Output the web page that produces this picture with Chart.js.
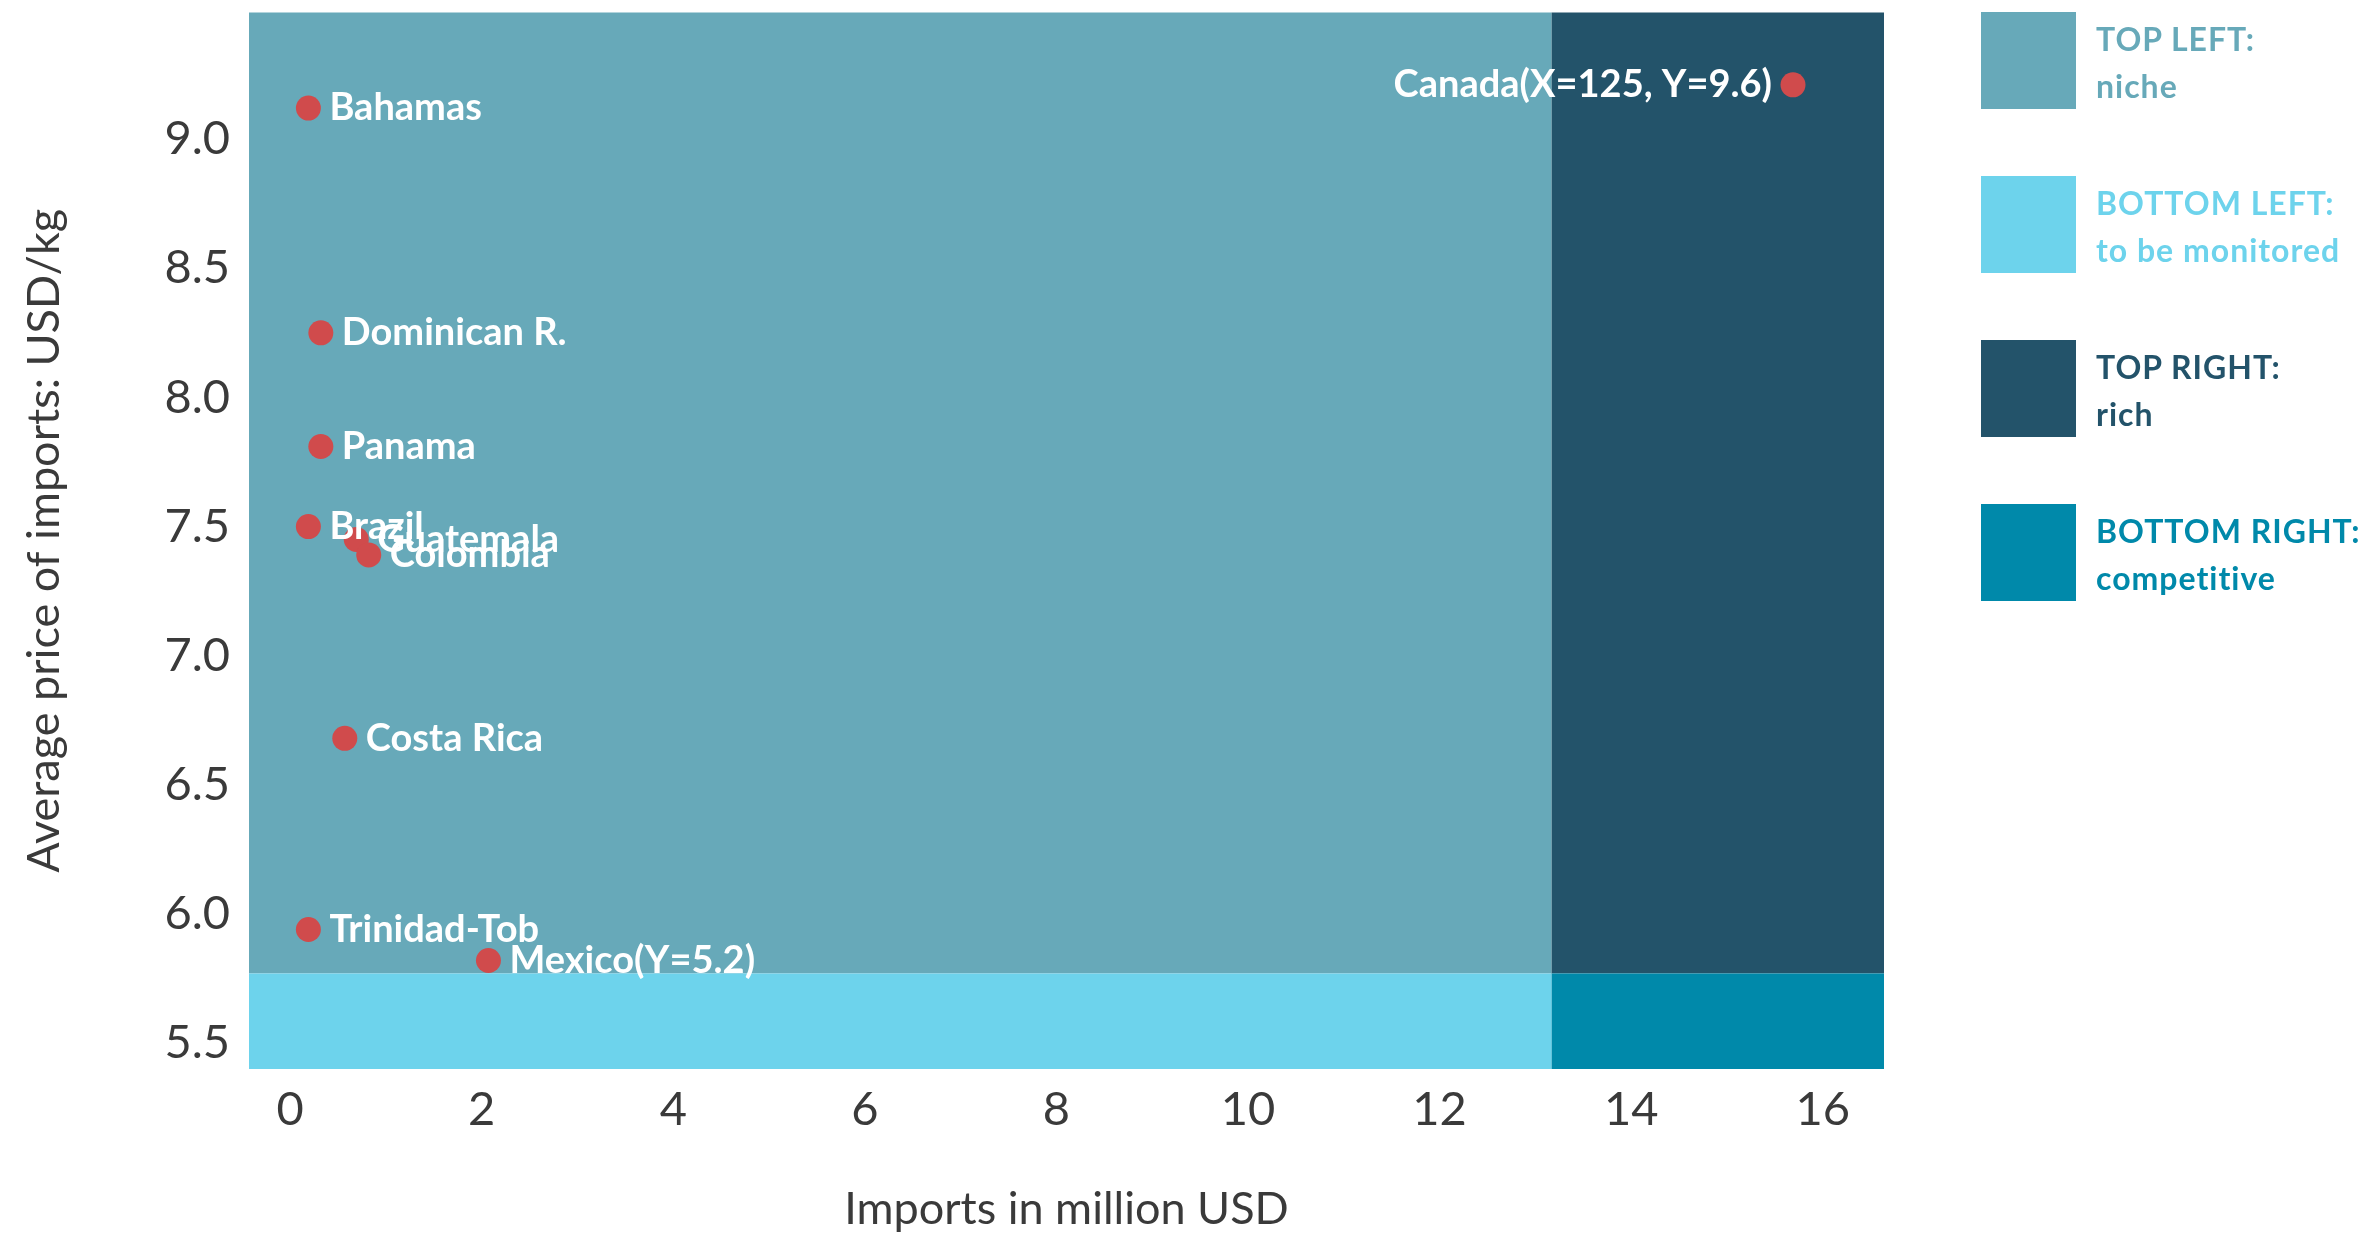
<!DOCTYPE html>
<html>
<head>
<meta charset="utf-8">
<script src="https://cdn.jsdelivr.net/npm/chart.js@4.4.1/dist/chart.umd.min.js"></script>
<style>
  body { margin: 0; background: #fff; }
  #wrap { position: relative; width: 2369px; height: 1235px; }
  #legend { position: absolute; left: 1981px; top: 12px; font-family: Lato, "Open Sans", sans-serif; font-weight: 700; }
  .item { position: absolute; left: 0; width: 420px; height: 97px; }
  .box { position: absolute; left: 0; top: 0; width: 95px; height: 97px; }
  .txt { position: absolute; left: 115px; top: 3px; font-size: 32px; line-height: 47px; letter-spacing: 1px; white-space: nowrap; }
</style>
</head>
<body>
<div id="wrap">
  <canvas id="quadChart" width="2369" height="1235"></canvas>
  <div id="legend"></div>
</div>
<script>
// Datos de los países
const countries = ['Bahamas', 'Dominican R.', 'Panama', 'Brazil', 'Guatemala', 'Colombia', 'Costa Rica', 'Trinidad-Tob', 'Mexico', 'Canada'];
const importsMUSD = [0.19, 0.32, 0.32, 0.19, 0.69, 0.82, 0.57, 0.19, 2.07, 15.69];
const priceUSDkg = [9.12, 8.25, 7.81, 7.50, 7.45, 7.39, 6.68, 5.94, 5.82, 9.21];
const pointLabels = ['Bahamas', 'Dominican R.', 'Panama', 'Brazil', 'Guatemala', 'Colombia', 'Costa Rica', 'Trinidad-Tob', 'Mexico(Y=5.2)', 'Canada(X=125, Y=9.6)'];

// Cuadrantes
const xSplit = 13.17;
const ySplit = 5.77;
const quadNames = ['TOP LEFT:', 'BOTTOM LEFT:', 'TOP RIGHT:', 'BOTTOM RIGHT:'];
const quadDesc = ['niche', 'to be monitored', 'rich', 'competitive'];
const quadColors = ['#67a9b9', '#6dd3ec', '#23536a', '#0089aa'];

// Ticks
const xTickStep = 2;
const yTickStep = 0.5;

const FONT = 'Lato, "Open Sans", sans-serif';

// Fondo de cuadrantes
const quadrantPlugin = {
    id: 'quadrants',
    beforeDatasetsDraw(chart) {
        const { ctx, chartArea, scales } = chart;
        const xs = scales.x.getPixelForValue(xSplit);
        const ys = scales.y.getPixelForValue(ySplit);
        ctx.save();
        ctx.fillStyle = quadColors[0];
        ctx.fillRect(chartArea.left, chartArea.top, xs - chartArea.left, ys - chartArea.top);
        ctx.fillStyle = quadColors[1];
        ctx.fillRect(chartArea.left, ys, xs - chartArea.left, chartArea.bottom - ys);
        ctx.fillStyle = quadColors[2];
        ctx.fillRect(xs, chartArea.top, chartArea.right - xs, ys - chartArea.top);
        ctx.fillStyle = quadColors[3];
        ctx.fillRect(xs, ys, chartArea.right - xs, chartArea.bottom - ys);
        ctx.restore();
    }
};

// Etiquetas de puntos
const labelPlugin = {
    id: 'pointText',
    afterDatasetsDraw(chart) {
        const { ctx } = chart;
        const meta = chart.getDatasetMeta(0);
        ctx.save();
        ctx.font = 'bold 38px ' + FONT;
        ctx.fillStyle = '#ffffff';
        ctx.textBaseline = 'middle';
        meta.data.forEach((pt, i) => {
            if (importsMUSD[i] > xSplit) {
                ctx.textAlign = 'right';
                ctx.fillText(pointLabels[i], pt.x - 21, pt.y);
            } else {
                ctx.textAlign = 'left';
                ctx.fillText(pointLabels[i], pt.x + 21, pt.y);
            }
        });
        ctx.restore();
    }
};

const ctx = document.getElementById('quadChart').getContext('2d');
new Chart(ctx, {
    type: 'scatter',
    data: {
        datasets: [{
            label: 'Countries',
            data: importsMUSD.map((x, i) => ({ x: x, y: priceUSDkg[i] })),
            backgroundColor: '#d04b4c',
            borderWidth: 0,
            pointRadius: 12.5,
            pointHoverRadius: 12.5
        }]
    },
    options: {
        responsive: false,
        animation: false,
        layout: { padding: { top: 12, right: 485, left: 0, bottom: 0 } },
        plugins: {
            legend: { display: false },
            tooltip: { enabled: false }
        },
        scales: {
            x: {
                min: -0.43,
                max: 16.64,
                border: { display: false },
                grid: { display: false, drawTicks: false },
                ticks: {
                    stepSize: xTickStep,
                    includeBounds: false,
                    padding: 13,
                    color: '#3a3a3a',
                    font: { family: FONT, size: 47, weight: '400' }
                },
                title: {
                    display: true,
                    text: 'Imports in million USD',
                    color: '#3a3a3a',
                    padding: { top: 0, bottom: 3 },
                    font: { family: FONT, size: 45, weight: '400', lineHeight: 1.0 }
                },
                afterFit(scale) {
                    scale.height = 166;
                    scale.paddingLeft = 0;
                    scale.paddingRight = 0;
                }
            },
            y: {
                min: 5.4,
                max: 9.49,
                border: { display: false },
                grid: { display: false, drawTicks: false },
                ticks: {
                    stepSize: yTickStep,
                    includeBounds: false,
                    padding: 19,
                    color: '#3a3a3a',
                    font: { family: FONT, size: 47, weight: '400' },
                    callback: v => v.toFixed(1)
                },
                title: {
                    display: true,
                    text: 'Average price of imports: USD/kg',
                    color: '#3a3a3a',
                    padding: { top: 22, bottom: 0 },
                    font: { family: FONT, size: 45, weight: '400', lineHeight: 1.0 }
                },
                afterFit(scale) {
                    scale.width = 249;
                    scale.paddingTop = 0;
                    scale.paddingBottom = 0;
                }
            }
        }
    },
    plugins: [quadrantPlugin, labelPlugin]
});

// Leyenda HTML
const legend = document.getElementById('legend');
quadNames.forEach((name, i) => {
    const item = document.createElement('div');
    item.className = 'item';
    item.style.top = (i * 164) + 'px';
    item.innerHTML = '<div class="box" style="background:' + quadColors[i] + '"></div>' +
        '<div class="txt" style="color:' + quadColors[i] + '">' + name + '<br>' + quadDesc[i] + '</div>';
    legend.appendChild(item);
});
</script>
</body>
</html>
